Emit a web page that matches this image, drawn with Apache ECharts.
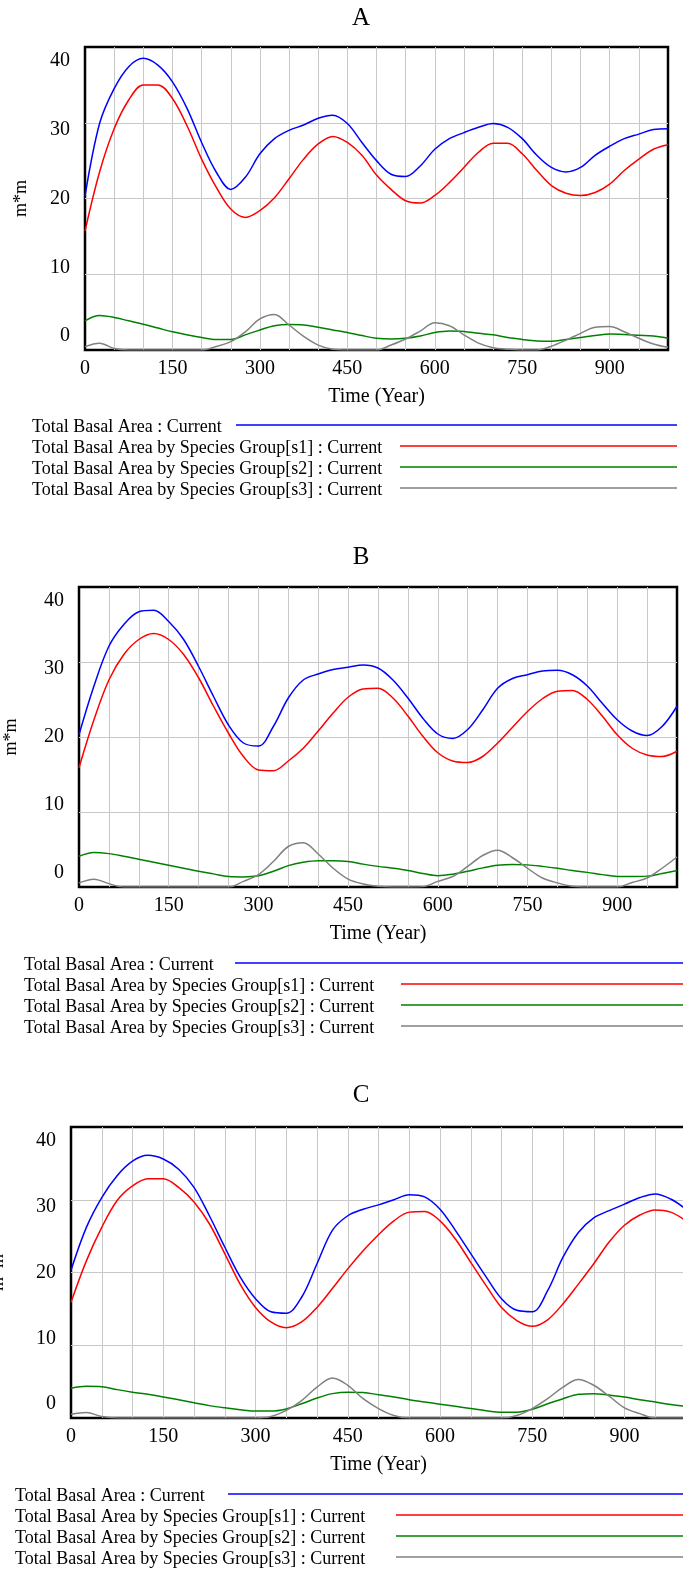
<!DOCTYPE html>
<html>
<head>
<meta charset="utf-8">
<script src="https://cdn.jsdelivr.net/npm/echarts@6/dist/echarts.min.js"></script>
<style>
  html, body { margin: 0; padding: 0; background: #fff; }
  #chart { width: 683px; height: 1571px; }
</style>
</head>
<body>
<div id="chart"></div>
<script>
// 时间轴（年），每 25 年取一个点
const years = [0, 25, 50, 75, 100, 125, 150, 175, 200, 225, 250, 275, 300, 325, 350, 375, 400,
  425, 450, 475, 500, 525, 550, 575, 600, 625, 650, 675, 700, 725, 750, 775, 800, 825, 850,
  875, 900, 925, 950, 975, 1000]

const seriesNames = [
  'Total Basal Area : Current',
  'Total Basal Area by Species Group[s1] : Current',
  'Total Basal Area by Species Group[s2] : Current',
  'Total Basal Area by Species Group[s3] : Current'
]
const panelTitles = ['A', 'B', 'C']
const xTickLabels = [0, 150, 300, 450, 600, 750, 900]
const yTickLabels = [0, 10, 20, 30, 40]

// Panel A
const totalA = [20.3, 29.9, 34.5, 37.4, 38.5, 37.6, 35.4, 31.9, 27.4, 23.5, 21.2, 22.8, 25.9, 27.9, 29.0, 29.7, 30.6,
  31.0, 29.9, 27.4, 25.0, 23.2, 22.9, 24.3, 26.5, 27.9, 28.7, 29.4, 29.9, 29.4, 27.9, 25.7, 24.1, 23.5, 24.1,
  25.7, 26.9, 27.9, 28.5, 29.1, 29.2]
const s1A = [15.7, 23.5, 29.2, 33.0, 35.0, 35.0, 33.2, 29.6, 25.2, 21.5, 18.6, 17.5, 18.4, 20.1, 22.6, 25.2, 27.2,
  28.2, 27.4, 25.7, 23.1, 21.2, 19.7, 19.4, 20.4, 22.1, 24.1, 26.1, 27.3, 27.3, 25.9, 23.7, 21.7, 20.7, 20.4,
  20.8, 21.9, 23.7, 25.2, 26.5, 27.1]
const s2A = [3.85, 4.55, 4.3, 3.85, 3.4, 2.9, 2.4, 2.0, 1.65, 1.4, 1.4, 2.0, 2.65, 3.2, 3.35, 3.3, 3.0,
  2.65, 2.3, 1.9, 1.55, 1.45, 1.55, 1.85, 2.3, 2.5, 2.45, 2.2, 2.0, 1.65, 1.4, 1.2, 1.15, 1.4, 1.65,
  1.9, 2.1, 2.05, 1.95, 1.85, 1.55]
const s3A = [0.45, 0.9, 0.2, 0, 0, 0, 0, 0, 0, 0.45, 1.1, 2.4, 4.1, 4.7, 3.3, 1.8, 0.65,
  0.1, 0, 0, 0, 0.65, 1.45, 2.5, 3.6, 3.2, 2.0, 0.9, 0.3, 0.1, 0, 0, 0.5, 1.3, 2.2,
  3.0, 3.1, 2.4, 1.55, 0.8, 0.35]

// Panel B
const totalB = [20.3, 26.8, 32.1, 35.0, 36.7, 36.9, 35.4, 33.0, 29.4, 25.4, 21.6, 19.2, 18.8, 21.4, 25.2, 27.6, 28.4,
  29.0, 29.3, 29.6, 29.2, 27.6, 25.2, 22.5, 20.4, 19.8, 21.0, 23.6, 26.5, 27.8, 28.3, 28.8, 28.9, 28.3, 26.8,
  24.5, 22.3, 20.8, 20.2, 21.4, 24.1]
const s1B = [15.9, 22.3, 27.6, 31.0, 33.0, 33.8, 33.0, 31.0, 27.9, 24.1, 20.5, 17.4, 15.6, 15.5, 16.8, 18.5, 20.8,
  23.2, 25.3, 26.4, 26.5, 25.2, 22.8, 20.1, 17.9, 16.8, 16.6, 17.4, 19.2, 21.3, 23.4, 25.1, 26.1, 26.2, 25.0,
  22.8, 20.3, 18.5, 17.6, 17.4, 18.1]
const s2B = [4.1, 4.6, 4.45, 4.1, 3.7, 3.3, 2.9, 2.5, 2.1, 1.75, 1.4, 1.35, 1.5, 2.1, 2.85, 3.3, 3.5,
  3.5, 3.4, 3.05, 2.75, 2.5, 2.2, 1.8, 1.5, 1.7, 2.1, 2.55, 2.9, 3.0, 2.95, 2.75, 2.5, 2.2, 1.95,
  1.65, 1.4, 1.4, 1.45, 1.8, 2.2]
const s3B = [0.55, 1.05, 0.45, 0, 0, 0, 0, 0, 0, 0, 0, 0.75, 1.65, 3.4, 5.4, 5.9, 4.4,
  2.5, 1.05, 0.4, 0.1, 0, 0, 0.05, 0.75, 1.4, 2.75, 4.2, 4.9, 3.9, 2.5, 1.2, 0.55, 0.1, 0,
  0, 0, 0.6, 1.2, 2.5, 4.0]

// Panel C
const totalC = [20.3, 26.2, 30.3, 33.3, 35.3, 36.1, 35.6, 34.2, 31.7, 27.8, 23.5, 19.4, 16.4, 14.6, 14.4, 16.6, 21.2,
  25.8, 27.8, 28.7, 29.3, 30.0, 30.7, 30.4, 28.7, 25.8, 22.6, 19.4, 16.4, 14.8, 14.6, 17.5, 22.1, 25.5, 27.5,
  28.5, 29.4, 30.3, 30.8, 30.1, 28.7]
const s1C = [15.9, 21.6, 26.2, 29.9, 31.9, 32.9, 32.9, 31.7, 29.7, 26.7, 22.6, 18.4, 15.2, 13.2, 12.4, 13.2, 15.2,
  17.8, 20.5, 23.0, 25.2, 27.1, 28.3, 28.4, 27.1, 24.6, 21.4, 18.2, 15.2, 13.4, 12.6, 13.5, 15.7, 18.4, 21.2,
  24.2, 26.5, 27.9, 28.6, 28.3, 27.1]
const s2C = [4.1, 4.35, 4.3, 3.9, 3.55, 3.25, 2.9, 2.5, 2.1, 1.7, 1.4, 1.15, 0.95, 0.95, 1.25, 1.95, 2.75,
  3.35, 3.55, 3.5, 3.2, 2.9, 2.5, 2.2, 1.9, 1.6, 1.3, 1.0, 0.8, 0.8, 1.2, 1.95, 2.65, 3.25, 3.35,
  3.15, 2.9, 2.5, 2.2, 1.85, 1.6]
const s3C = [0.5, 0.75, 0.2, 0, 0, 0, 0, 0, 0, 0, 0, 0, 0, 0.2, 1.05, 2.4, 4.25,
  5.5, 4.5, 2.65, 1.3, 0.35, 0, 0, 0, 0, 0, 0, 0, 0.35, 1.3, 2.65, 4.25, 5.3, 4.5,
  3.0, 1.4, 0.6, 0, 0, 0]

const panelData = [
  [totalA, s1A, s2A, s3A],
  [totalB, s1B, s2B, s3B],
  [totalC, s1C, s2C, s3C]
]

// 颜色与字体
const lineColors = ['#0000ff', '#ff0000', '#008000', '#808080']
const fontFamily = '"Liberation Serif", "Times New Roman", serif'
const gridLineColor = '#c8c8c8'

// 每个面板的版面位置（C 图右侧超出画布，与原图一致）
const layouts = [
  { grid: { left: 85, top: 47, width: 583, height: 303 }, titleY: 18, yNameGap: 55,
    legendY: 425, textX: 32, firstLineX: 236, lineX: 400, lineEnd: 677 },
  { grid: { left: 79, top: 587, width: 598, height: 300 }, titleY: 557, yNameGap: 59,
    legendY: 963, textX: 24, firstLineX: 235, lineX: 401, lineEnd: 683 },
  { grid: { left: 71, top: 1127, width: 615, height: 291 }, titleY: 1095, yNameGap: 64,
    legendY: 1494, textX: 15, firstLineX: 228, lineX: 396, lineEnd: 683 }
]

// Vensim 的纵轴刻度文字有些错位，用 rich 的 padding 模拟
const yLabelRich = {
  y0: { padding: [0, 0, 28, 0] },
  y10: { padding: [0, 0, 14, 0] },
  y20: {},
  y30: { padding: [14, 0, 0, 0] },
  y40: { padding: [28, 0, 0, 0] }
}
Object.values(yLabelRich).forEach(r => {
  r.fontFamily = fontFamily
  r.fontSize = 20
  r.color = '#000'
})

const grids = []
const xAxes = []
const yAxes = []
const series = []
const graphics = []

layouts.forEach((lay, p) => {
  grids.push(Object.assign({
    show: true,
    borderColor: '#000',
    borderWidth: 2.5,
    backgroundColor: 'transparent',
    containLabel: false,
    outerBoundsMode: 'none' // v6 默认会把标签挤进容器，这里关掉
  }, lay.grid))

  xAxes.push({
    type: 'value',
    gridIndex: p,
    min: 0,
    max: 1000,
    interval: 50,
    name: 'Time (Year)',
    nameLocation: 'middle',
    nameGap: 37,
    nameTextStyle: { fontFamily, fontSize: 20, color: '#000' },
    axisLine: { show: false },
    axisTick: { show: false },
    axisLabel: {
      margin: 9,
      fontFamily,
      fontSize: 20,
      color: '#000',
      formatter: v => (xTickLabels.includes(v) ? String(v) : '')
    },
    splitLine: {
      show: true,
      showMinLine: false,
      showMaxLine: false,
      lineStyle: { color: gridLineColor, width: 1 }
    }
  })

  yAxes.push({
    type: 'value',
    gridIndex: p,
    min: 0,
    max: 40,
    interval: 10,
    name: 'm*m',
    nameLocation: 'middle',
    nameRotate: 90,
    nameGap: lay.yNameGap,
    nameTextStyle: { fontFamily, fontSize: 18, color: '#000' },
    axisLine: { show: false },
    axisTick: { show: false },
    axisLabel: {
      margin: 15,
      formatter: v => (yTickLabels.includes(v) ? '{y' + v + '|' + v + '}' : ''),
      rich: yLabelRich
    },
    splitLine: {
      show: true,
      showMinLine: false,
      showMaxLine: false,
      lineStyle: { color: gridLineColor, width: 1 }
    }
  })

  panelData[p].forEach((values, i) => {
    series.push({
      name: seriesNames[i] + ' ' + panelTitles[p],
      type: 'line',
      xAxisIndex: p,
      yAxisIndex: p,
      data: years.map((t, k) => [t, values[k]]),
      showSymbol: false,
      smooth: 0.35,
      lineStyle: { color: lineColors[i], width: 1.5 },
      itemStyle: { color: lineColors[i] },
      z: 3 + i
    })
  })

  // 面板标题
  graphics.push({
    type: 'text',
    position: [361, lay.titleY],
    style: {
      text: panelTitles[p],
      font: '25px ' + fontFamily,
      fill: '#000',
      align: 'center',
      verticalAlign: 'middle'
    }
  })

  // 图例：文字 + 长线
  seriesNames.forEach((name, i) => {
    const y = lay.legendY + i * 21
    graphics.push({
      type: 'text',
      position: [lay.textX, y + 2],
      style: {
        text: name,
        font: '18px ' + fontFamily,
        fill: '#000',
        align: 'left',
        verticalAlign: 'middle'
      }
    })
    graphics.push({
      type: 'line',
      shape: { x1: i === 0 ? lay.firstLineX : lay.lineX, y1: y, x2: lay.lineEnd, y2: y },
      style: { stroke: lineColors[i], lineWidth: 1.5 }
    })
  })
})

const myChart = echarts.init(document.getElementById('chart'), null, { renderer: 'canvas' })
myChart.setOption({
  animation: false,
  backgroundColor: '#fff',
  grid: grids,
  xAxis: xAxes,
  yAxis: yAxes,
  series,
  graphic: { elements: graphics }
})
</script>
</body>
</html>
